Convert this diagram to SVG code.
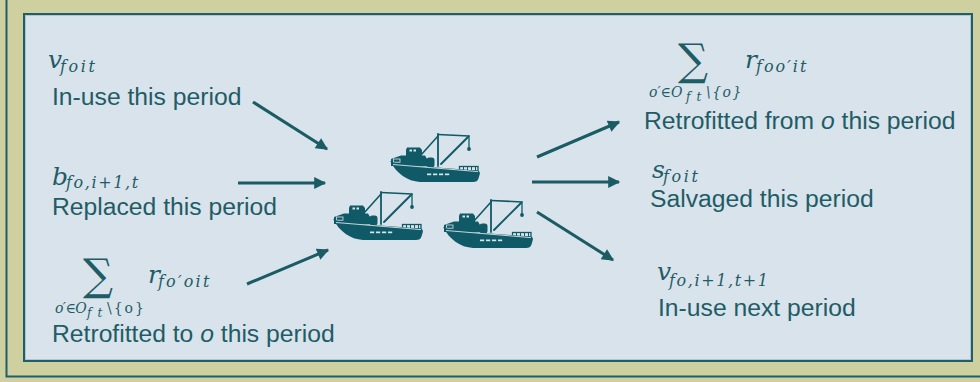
<svg xmlns="http://www.w3.org/2000/svg" xmlns:xlink="http://www.w3.org/1999/xlink" width="980" height="382" viewBox="0 0 980 382">
  <style>
    .lbl { font-family: "Liberation Sans", Arial, sans-serif; font-size: 24.7px; fill: #1e5c66; }
    .m { font-family: "DejaVu Serif", "Liberation Serif", serif; font-style: italic; fill: #1e5c66; }
    .big { font-size: 25px; }
    .sub { font-size: 16px; }
    .lim { font-size: 14px; }
    .limsub { font-size: 12px; letter-spacing: 6px; }
    .sum { font-family: "DejaVu Serif", "Liberation Serif", serif; font-size: 44px; fill: #1e5c66; }
    .arrow { stroke: #1b5b64; stroke-width: 3; fill: none; marker-end: url(#head); }
    .bl { stroke: #0f5a66; fill: none; stroke-linecap: round; }
    .bf { fill: #0f5a66; }
    .hl { fill: #d9e3eb; }
  </style>
  <defs>
    <marker id="head" viewBox="0 0 10 10" refX="9" refY="5" markerWidth="4.4" markerHeight="4" orient="auto" markerUnits="strokeWidth">
      <path d="M0,0 L10,5 L0,10 Z" fill="#1b5b64"/>
    </marker>
    <!-- trawler with crane, 90 x 48 -->
    <g id="boat">
      <line class="bl" x1="48" y1="1" x2="48" y2="33" stroke-width="1.8"/>
      <line class="bl" x1="48" y1="1.5" x2="79" y2="3" stroke-width="1.6"/>
      <line class="bl" x1="79" y1="3" x2="79" y2="15" stroke-width="1.3"/>
      <circle class="bf" cx="79" cy="16" r="1.9"/>
      <line class="bl" x1="48" y1="3" x2="31" y2="22" stroke-width="1.6"/>
      <line class="bl" x1="78" y1="4" x2="51" y2="31" stroke-width="1.9"/>
      <path class="bf" d="M16,17 L17,14.5 L30,14.5 L32,17 L32,25 L16,25 Z"/>
      <rect class="hl" x="19.5" y="16.5" width="2.5" height="2"/>
      <rect class="hl" x="23.5" y="16.5" width="2.5" height="2"/>
      <path class="bf" d="M1,26 L11,22.5 L35,22.5 L37,26 L37,33 L1,33 Z"/>
      <rect x="3.5" y="26" width="6.5" height="3.2" fill="none" stroke="#d9e3eb" stroke-width="0.8"/>
      <rect class="bf" x="36.5" y="24.5" width="8" height="10" rx="2.8"/>
      <rect x="69.5" y="33.5" width="18.5" height="4.5" fill="none" stroke="#0f5a66" stroke-width="1.3"/>
      <rect class="bf" x="73" y="33.5" width="1" height="4.5"/>
      <rect class="bf" x="77" y="33.5" width="1" height="4.5"/>
      <rect class="bf" x="81" y="33.5" width="1" height="4.5"/>
      <rect class="bf" x="85" y="33.5" width="1" height="4.5"/>
      <path class="bf" d="M0,28 C4,30 8,31 14,32 L87,37.5 Q90.5,38 89.8,41 L88.5,45.5 Q87.5,49 83,49 L30,49 C17,48 7,41 0,28 Z"/>
      <path d="M3,31.5 L88,38.6" stroke="#d9e3eb" stroke-width="0.9" fill="none"/>
      <rect class="hl" x="37" y="40.5" width="4.2" height="1.7"/>
      <rect class="hl" x="43" y="40.5" width="4.2" height="1.7"/>
      <rect class="hl" x="49" y="40.5" width="4.2" height="1.7"/>
      <rect class="hl" x="55" y="40.5" width="4.2" height="1.7"/>
    </g>
  </defs>

  <!-- frame -->
  <rect x="0" y="0" width="980" height="382" fill="#cfd09f"/>
  <path d="M6.5,0 V376.5 H980" fill="none" stroke="#1f5f6b" stroke-width="2"/>
  <rect x="24" y="14" width="948" height="347" fill="#d9e3eb" stroke="#1f5f6b" stroke-width="2"/>
  <rect x="25.5" y="15.5" width="945" height="344" fill="none" stroke="#b6c3cb" stroke-width="1"/>

  <!-- fleet -->
  <g id="fleet">
    <use xlink:href="#boat" href="#boat" x="390" y="133"/>
    <use xlink:href="#boat" href="#boat" x="333" y="191"/>
    <use xlink:href="#boat" href="#boat" x="443" y="199"/>
  </g>

  <!-- inflows -->
  <g id="in-use-this">
    <text class="m big" x="48" y="68">v<tspan class="sub" x="60" y="72" letter-spacing="2.6">foit</tspan></text>
    <text class="lbl" x="52" y="105">In-use this period</text>
  </g>
  <g id="replaced">
    <text class="m big" x="52" y="185">b<tspan class="sub" x="66" y="188" letter-spacing="1.6">fo,i+1,t</tspan></text>
    <text class="lbl" x="52" y="215">Replaced this period</text>
  </g>
  <g id="retrofitted-to">
    <text class="sum" x="83" y="290" textLength="30" lengthAdjust="spacingAndGlyphs">∑</text>
    <text class="m big" x="148" y="283">r<tspan class="sub" x="158" y="287" letter-spacing="2.2">fo′oit</tspan></text>
    <text class="m lim" x="55" y="313" letter-spacing="-0.6">o′∈O<tspan class="limsub" x="87" y="317">ft</tspan><tspan x="107" y="313" font-style="normal" letter-spacing="2">\{o}</tspan></text>
    <text class="lbl" x="52" y="342">Retrofitted to <tspan font-style="italic">o</tspan> this period</text>
  </g>

  <!-- outflows -->
  <g id="retrofitted-from">
    <text class="sum" x="678" y="75" textLength="30" lengthAdjust="spacingAndGlyphs">∑</text>
    <text class="m big" x="745" y="68">r<tspan class="sub" x="756" y="72" letter-spacing="2">foo′it</tspan></text>
    <text class="m lim" x="649" y="97">o′∈O<tspan class="limsub" x="686" y="101">ft</tspan><tspan x="706" y="97" letter-spacing="1.5">\{o}</tspan></text>
    <text class="lbl" x="644" y="129">Retrofitted from <tspan font-style="italic">o</tspan> this period</text>
  </g>
  <g id="salvaged">
    <text class="m big" x="652" y="178">s<tspan class="sub" x="663" y="182" letter-spacing="2.6">foit</tspan></text>
    <text class="lbl" x="650" y="207">Salvaged this period</text>
  </g>
  <g id="in-use-next">
    <text class="m big" x="657" y="280">v<tspan class="sub" x="669" y="286" letter-spacing="1.6">fo,i+1,t+1</tspan></text>
    <text class="lbl" x="658" y="316">In-use next period</text>
  </g>

  <!-- connectors -->
  <g id="connectors">
    <line class="arrow" x1="253" y1="102" x2="327" y2="149"/>
    <line class="arrow" x1="238" y1="183" x2="325" y2="183"/>
    <line class="arrow" x1="247" y1="284" x2="328" y2="250"/>
    <line class="arrow" x1="537" y1="157" x2="619" y2="122"/>
    <line class="arrow" x1="532" y1="182" x2="619" y2="182"/>
    <line class="arrow" x1="537" y1="212" x2="613" y2="260"/>
  </g>
</svg>
